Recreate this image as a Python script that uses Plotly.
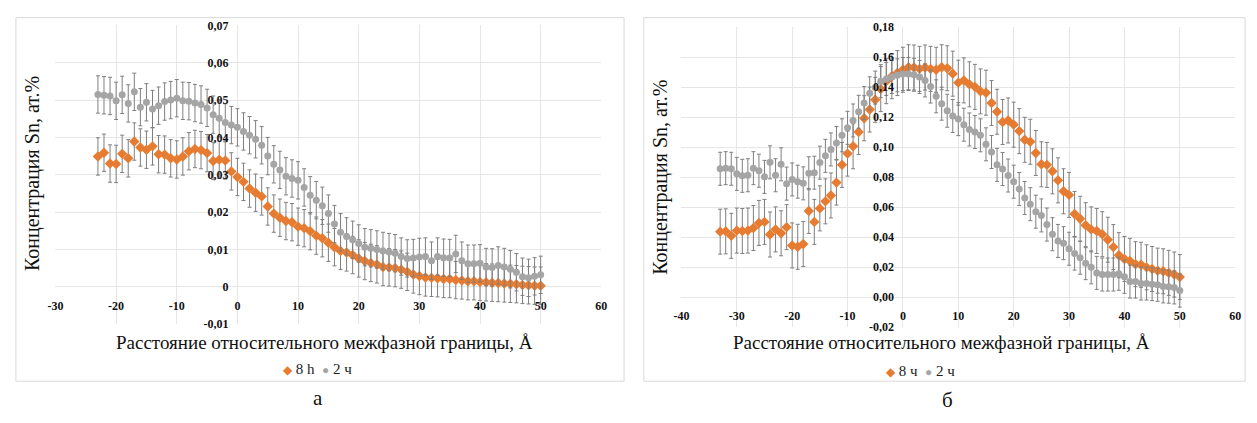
import plotly.graph_objects as go

# ---------------- data ----------------
# Panel "а"
X_A = [-23, -22, -21, -20, -19, -18, -17, -16, -15, -14, -13, -12, -11, -10, -9, -8, -7, -6, -5, -4, -3, -2, -1,
       0, 1, 2, 3, 4, 5, 6, 7, 8, 9, 10, 11, 12, 13, 14, 15, 16, 17, 18, 19, 20, 21, 22, 23, 24, 25,
       26, 27, 28, 29, 30, 31, 32, 33, 34, 35, 36, 37, 38, 39, 40, 41, 42, 43, 44, 45, 46, 47, 48, 49, 50]
A_8H = [0.0349, 0.0359, 0.0330, 0.0329, 0.0356, 0.0344, 0.0389, 0.0373, 0.0367, 0.0376, 0.0355, 0.0354,
        0.0344, 0.0341, 0.0349, 0.0363, 0.0369, 0.0366, 0.0358, 0.0337, 0.0340, 0.0338, 0.0309,
        0.0294, 0.0281, 0.0263, 0.0252, 0.0242, 0.0215, 0.0196, 0.0185, 0.0176, 0.0173, 0.0161, 0.0157,
        0.0149, 0.0137, 0.0130, 0.0118, 0.0106, 0.0096, 0.0092, 0.0085, 0.0076, 0.0069, 0.0064, 0.0060,
        0.0053, 0.0052, 0.0050, 0.0046, 0.0040, 0.0033, 0.0029, 0.0025, 0.0024, 0.0023, 0.0021, 0.0021,
        0.0018, 0.0017, 0.0015, 0.0015, 0.0013, 0.0012, 0.0011, 0.0010, 0.0009, 0.0008, 0.0007, 0.0005,
        0.0004, 0.0003, 0.0003]
A_2H = [0.0515, 0.0513, 0.0511, 0.0498, 0.0514, 0.0491, 0.0522, 0.0481, 0.0494, 0.0476, 0.0485, 0.0496,
        0.0500, 0.0505, 0.0498, 0.0497, 0.0492, 0.0488, 0.0479, 0.0461, 0.0451, 0.0440, 0.0433,
        0.0427, 0.0416, 0.0406, 0.0395, 0.0379, 0.0350, 0.0328, 0.0313, 0.0296, 0.0290, 0.0285, 0.0266,
        0.0245, 0.0232, 0.0217, 0.0196, 0.0168, 0.0146, 0.0135, 0.0126, 0.0116, 0.0106, 0.0103, 0.0100,
        0.0096, 0.0093, 0.0090, 0.0081, 0.0076, 0.0077, 0.0080, 0.0081, 0.0070, 0.0081, 0.0078, 0.0077,
        0.0088, 0.0070, 0.0062, 0.0062, 0.0063, 0.0053, 0.0052, 0.0057, 0.0053, 0.0047, 0.0039, 0.0027,
        0.0024, 0.0028, 0.0032]
ERR_A_8H = 0.005
ERR_A_2H = 0.005
XTICKS_A = [-30, -20, -10, 0, 10, 20, 30, 40, 50, 60]
XTEXT_A = ["-30", "-20", "-10", "0", "10", "20", "30", "40", "50", "60"]
YTICKS_A = [-0.01, 0, 0.01, 0.02, 0.03, 0.04, 0.05, 0.06, 0.07]
YTEXT_A = ["-0,01", "0", "0,01", "0,02", "0,03", "0,04", "0,05", "0,06", "0,07"]

# Panel "б"
X_B = [-33, -32, -31, -30, -29, -28, -27, -26, -25, -24, -23, -22, -21, -20, -19, -18, -17, -16, -15, -14,
       -13, -12, -11, -10, -9, -8, -7, -6, -5, -4, -3, -2, -1,
       0, 1, 2, 3, 4, 5, 6, 7, 8, 9, 10, 11, 12, 13, 14, 15, 16, 17, 18, 19, 20, 21, 22, 23, 24, 25,
       26, 27, 28, 29, 30, 31, 32, 33, 34, 35, 36, 37, 38, 39, 40, 41, 42, 43, 44, 45, 46, 47, 48, 49, 50]
B_8H = [0.0436, 0.0438, 0.0408, 0.0443, 0.0440, 0.0443, 0.0460, 0.0494, 0.0501, 0.0417, 0.0451, 0.0425,
        0.0466, 0.0344, 0.0335, 0.0354, 0.0574, 0.0501, 0.0591, 0.0638, 0.0677, 0.0763, 0.0881, 0.0956,
        0.1005, 0.1100, 0.1192, 0.1250, 0.1315, 0.1386, 0.1439, 0.1472, 0.1493,
        0.1515, 0.1532, 0.1530, 0.1521, 0.1530, 0.1521, 0.1515, 0.1532, 0.1525, 0.1489, 0.1429, 0.1444,
        0.1418, 0.1401, 0.1371, 0.1362, 0.1293, 0.1235, 0.1167, 0.1177, 0.1149, 0.1106, 0.1048, 0.1035,
        0.0960, 0.0885, 0.0881, 0.0838, 0.0778, 0.0705, 0.0681, 0.0554, 0.0522, 0.0479, 0.0451, 0.0440,
        0.0419, 0.0382, 0.0333, 0.0279, 0.0254, 0.0241, 0.0219, 0.0215, 0.0198, 0.0187, 0.0176, 0.0172,
        0.0161, 0.0150, 0.0133]
B_2H = [0.0855, 0.0859, 0.0855, 0.0821, 0.0808, 0.0812, 0.0859, 0.0842, 0.0801, 0.0898, 0.0812, 0.0885,
        0.0756, 0.0784, 0.0769, 0.0758, 0.0825, 0.0829, 0.0896, 0.0941, 0.0984, 0.1027, 0.1078, 0.1128,
        0.1177, 0.1235, 0.1293, 0.1358, 0.1396, 0.1439, 0.1454, 0.1467, 0.1478,
        0.1487, 0.1487, 0.1482, 0.1467, 0.1444, 0.1403, 0.1338, 0.1289, 0.1242, 0.1207, 0.1186, 0.1149,
        0.1117, 0.1100, 0.1078, 0.1018, 0.0967, 0.0881, 0.0853, 0.0810, 0.0769, 0.0720, 0.0660, 0.0619,
        0.0569, 0.0544, 0.0483, 0.0419, 0.0374, 0.0359, 0.0322, 0.0290, 0.0262, 0.0226, 0.0198, 0.0161,
        0.0150, 0.0150, 0.0150, 0.0155, 0.0135, 0.0103, 0.0103, 0.0090, 0.0090, 0.0086, 0.0082, 0.0071,
        0.0069, 0.0064, 0.0043]
ERR_B_8H = 0.015
ERR_B_2H = 0.011
XTICKS_B = [-40, -30, -20, -10, 0, 10, 20, 30, 40, 50, 60]
XTEXT_B = ["-40", "-30", "-20", "-10", "0", "10", "20", "30", "40", "50", "60"]
YTICKS_B = [-0.02, 0.0, 0.02, 0.04, 0.06, 0.08, 0.10, 0.12, 0.14, 0.16, 0.18]
YTEXT_B = ["-0,02", "0,00", "0,02", "0,04", "0,06", "0,08", "0,10", "0,12", "0,14", "0,16", "0,18"]

NAMES_A = ["8 h", "2 ч"]
NAMES_B = ["8 ч", "2 ч"]
PANEL_LABELS = ["а", "б"]
X_TITLE = "Расстояние относительного межфазной границы, Å"
Y_TITLE = "Концентрация Sn, ат.%"

# ---------------- style / layout ----------------
W, H = 1257, 423
ORANGE = "#E67C32"
GREY = "#A5A5A5"
ERRC = "#7F7F7F"
GRID = "#E6E6E6"
SERIF = "Liberation Serif, Times New Roman, serif"


def px_x(p):
    return p / W


def px_y(p):
    return 1 - p / H


# plot areas (pixels)
A_DOM_X = [px_x(48), px_x(600)]
A_DOM_Y = [px_y(328), px_y(19)]
B_DOM_X = [px_x(681), px_x(1241)]
B_DOM_Y = [px_y(331), px_y(20.7)]
A_RX, A_RY = [-30, 60], [-0.01, 0.07]
B_RX, B_RY = [-40, 60], [-0.02, 0.18]


def frac(v, r, d):
    return d[0] + (v - r[0]) / (r[1] - r[0]) * (d[1] - d[0])


fig = go.Figure()

eb = dict(type="constant", color=ERRC, thickness=1, width=2)

fig.add_trace(go.Scatter(x=X_A, y=A_8H, mode="markers", name=NAMES_A[0], xaxis="x", yaxis="y",
                         marker=dict(symbol="diamond", size=8, color=ORANGE),
                         error_y=dict(eb, value=ERR_A_8H)))
fig.add_trace(go.Scatter(x=X_A, y=A_2H, mode="markers", name=NAMES_A[1], xaxis="x", yaxis="y",
                         marker=dict(symbol="circle", size=7, color=GREY),
                         error_y=dict(eb, value=ERR_A_2H)))
fig.add_trace(go.Scatter(x=X_B, y=B_8H, mode="markers", name=NAMES_B[0], xaxis="x2", yaxis="y2",
                         marker=dict(symbol="diamond", size=8, color=ORANGE),
                         error_y=dict(eb, value=ERR_B_8H)))
fig.add_trace(go.Scatter(x=X_B, y=B_2H, mode="markers", name=NAMES_B[1], xaxis="x2", yaxis="y2",
                         marker=dict(symbol="circle", size=7, color=GREY),
                         error_y=dict(eb, value=ERR_B_2H)))

tickfont = dict(family=SERIF, size=12, color="#111111", weight="bold")
common = dict(showgrid=True, gridcolor=GRID, gridwidth=1, zeroline=False, showline=False,
              ticks="", tickfont=tickfont, tickmode="array", fixedrange=True)

fig.update_layout(
    width=W, height=H,
    margin=dict(l=0, r=0, t=0, b=0),
    paper_bgcolor="white", plot_bgcolor="white",
    showlegend=False,
    xaxis=dict(common, domain=A_DOM_X, range=A_RX, tickvals=XTICKS_A, ticktext=XTEXT_A,
               anchor="free", position=frac(0, A_RY, A_DOM_Y), ticklabelstandoff=10),
    yaxis=dict(common, domain=A_DOM_Y, range=A_RY, tickvals=YTICKS_A, ticktext=YTEXT_A,
               anchor="free", position=frac(0, A_RX, A_DOM_X), ticklabelstandoff=9),
    xaxis2=dict(common, domain=B_DOM_X, range=B_RX, tickvals=XTICKS_B, ticktext=XTEXT_B,
                anchor="free", position=frac(0, B_RY, B_DOM_Y), ticklabelstandoff=10),
    yaxis2=dict(common, domain=B_DOM_Y, range=B_RY, tickvals=YTICKS_B, ticktext=YTEXT_B,
                anchor="free", position=frac(0, B_RX, B_DOM_X), ticklabelstandoff=9),
)

# frames around each chart
for x0, x1 in [(8, 623), (643, 1251)]:
    fig.add_shape(type="rect", xref="paper", yref="paper",
                  x0=px_x(x0), x1=px_x(x1), y0=px_y(387), y1=px_y(11),
                  line=dict(color="#D9D9D9", width=1), fillcolor="rgba(0,0,0,0)", layer="below")


def legend_text(names):
    return (f'<span style="color:{ORANGE};font-size:12px">◆</span> {names[0]}  '
            f'<span style="color:{GREY};font-size:12px">●</span> {names[1]}')


title_font = dict(family=SERIF, size=19, color="#111111")
ann = [
    dict(x=px_x(320), y=px_y(347), text=X_TITLE, font=title_font),
    dict(x=px_x(944), y=px_y(347), text=X_TITLE, font=title_font),
    dict(x=px_x(25), y=px_y(172), text=Y_TITLE, font=dict(title_font, size=20), textangle=-90),
    dict(x=px_x(660), y=px_y(176), text=Y_TITLE, font=dict(title_font, size=20), textangle=-90),
    dict(x=px_x(313), y=px_y(374), text=legend_text(NAMES_A), font=dict(family=SERIF, size=15, color="#222222")),
    dict(x=px_x(923), y=px_y(376), text=legend_text(NAMES_B), font=dict(family=SERIF, size=15, color="#222222")),
    dict(x=px_x(313), y=px_y(404), text=PANEL_LABELS[0], font=dict(family=SERIF, size=21, color="#111111")),
    dict(x=px_x(950), y=px_y(406), text=PANEL_LABELS[1], font=dict(family=SERIF, size=21, color="#111111")),
]
for a in ann:
    fig.add_annotation(xref="paper", yref="paper", showarrow=False, xanchor="center", yanchor="middle", **a)

fig.write_html("out.html")
